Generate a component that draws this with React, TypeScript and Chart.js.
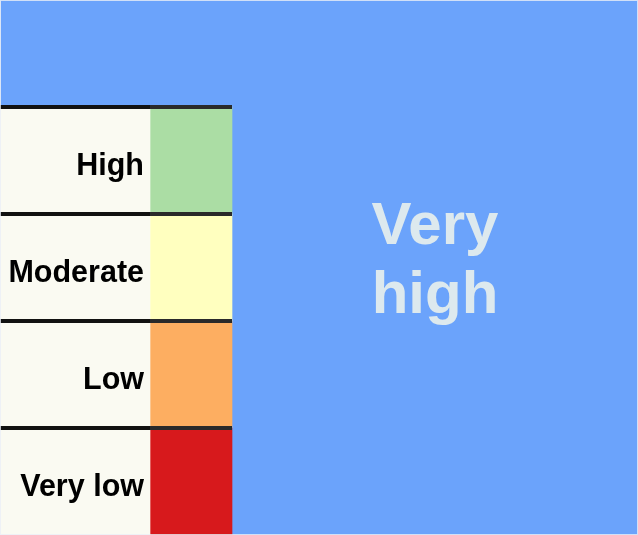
import React, { useEffect, useRef } from "react";
import { Chart, registerables } from "chart.js";

Chart.register(...registerables);

const categories = ["Very high", "High", "Moderate", "Low", "Very low"];
const swatchColors = ["#6ba3fb", "#abdda4", "#ffffbf", "#fdae61", "#d7191c"];
const labelColumn = [0, 150, 150, 150, 150];
const swatchColumn = [0, 82, 82, 82, 82];
const restColumn = [638, 406, 406, 406, 406];
const xMax = 638;

const FONT = "'Liberation Sans', Arial, Helvetica, sans-serif";

const tablePlugin = {
  id: "tableText",
  afterDatasetsDraw(chart: any) {
    const { ctx, scales, chartArea } = chart;
    const x = scales.x;
    const y = scales.y;
    const band = y.getPixelForValue(1) - y.getPixelForValue(0);
    const xLab = x.getPixelForValue(labelColumn[1]);
    const xSw = x.getPixelForValue(labelColumn[1] + swatchColumn[1]);
    ctx.save();
    // separator lines
    for (let i = 1; i < categories.length; i++) {
      const yy = y.getPixelForValue(i) - band / 2;
      ctx.lineWidth = 4;
      ctx.strokeStyle = "#111111";
      ctx.beginPath();
      ctx.moveTo(x.getPixelForValue(0), yy);
      ctx.lineTo(xLab, yy);
      ctx.stroke();
      ctx.strokeStyle = "#2a2a2a";
      ctx.beginPath();
      ctx.moveTo(xLab, yy);
      ctx.lineTo(xSw, yy);
      ctx.stroke();
    }
    // row labels
    ctx.fillStyle = "#000000";
    ctx.font = `bold 30.5px ${FONT}`;
    ctx.textAlign = "right";
    ctx.textBaseline = "alphabetic";
    for (let i = 1; i < categories.length; i++) {
      const yy = y.getPixelForValue(i);
      ctx.fillText(categories[i], xLab - 6, yy + 14);
    }
    // big label
    const cx = (xSw + x.getPixelForValue(xMax)) / 2;
    const cy = (chartArea.top + chartArea.bottom) / 2;
    const words = categories[0].split(" ");
    ctx.fillStyle = "#dde9ee";
    ctx.font = `bold 60px ${FONT}`;
    ctx.textAlign = "center";
    ctx.fillText(words[0], cx, cy - 24);
    ctx.fillText(words[1], cx, cy + 45);
    // thin frame
    ctx.strokeStyle = "rgba(235,239,246,0.8)";
    ctx.lineWidth = 1;
    ctx.strokeRect(0.5, 0.5, chart.width - 1, chart.height - 1);
    ctx.restore();
  },
};

export default function App() {
  const ref = useRef<HTMLCanvasElement>(null);
  useEffect(() => {
    if (!ref.current) return;
    const chart = new Chart(ref.current, {
      type: "bar",
      data: {
        labels: categories,
        datasets: [
          {
            label: "label",
            data: labelColumn,
            backgroundColor: "#fafaf2",
            borderWidth: 0,
            barPercentage: 1,
            categoryPercentage: 1,
          },
          {
            label: "swatch",
            data: swatchColumn,
            backgroundColor: swatchColors,
            borderWidth: 0,
            barPercentage: 1,
            categoryPercentage: 1,
          },
          {
            label: categories[0],
            data: restColumn,
            backgroundColor: swatchColors[0],
            borderWidth: 0,
            barPercentage: 1,
            categoryPercentage: 1,
          },
        ],
      },
      options: {
        indexAxis: "y",
        responsive: false,
        animation: false,
        events: [],
        layout: { padding: 0 },
        plugins: {
          legend: { display: false },
          tooltip: { enabled: false },
        },
        scales: {
          x: { type: "linear", stacked: true, min: 0, max: xMax, display: false },
          y: { type: "category", stacked: true, display: false, offset: true },
        },
      } as any,
      plugins: [tablePlugin],
    });
    return () => chart.destroy();
  }, []);
  return (
    <div style={{ position: "fixed", left: 0, top: 0, width: 638, height: 535 }}>
      <canvas ref={ref} width={638} height={535} style={{ display: "block" }} />
    </div>
  );
}
